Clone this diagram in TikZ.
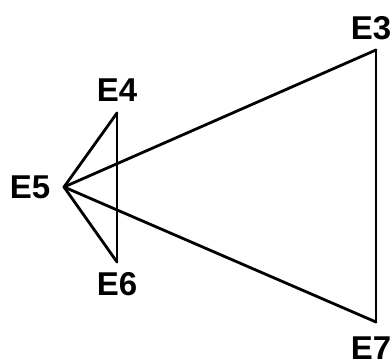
\documentclass[tikz,border=0pt]{standalone}
\usepackage{fontspec}
\setmainfont{Liberation Sans}
\begin{document}
\begin{tikzpicture}[x=1pt,y=-1pt,
  vtx/.style={inner sep=0pt,minimum size=0pt},
  lbl/.style={font=\bfseries\fontsize{33}{33}\selectfont,inner sep=0pt},
  edge/.style={line width=2.8pt,line cap=round,line join=round}]
\useasboundingbox (0,0) rectangle (392,359);
\node[vtx] (E3) at (376,50) {};
\node[vtx] (E4) at (117,113) {};
\node[vtx] (E5) at (64,187) {};
\node[vtx] (E6) at (117,262) {};
\node[vtx] (E7) at (376,322) {};
\node[lbl] (L3) at (371,28) {E3};
\node[lbl] (L4) at (117,90) {E4};
\node[lbl] (L5) at (30,187) {E5};
\node[lbl] (L6) at (117,284) {E6};
\node[lbl] (L7) at (371,348) {E7};
\draw[edge] (E5.center) -- (E3.center);
\draw[edge] (E5.center) -- (E4.center);
\draw[edge] (E5.center) -- (E6.center);
\draw[edge] (E5.center) -- (E7.center);
\draw[edge] (E4.center) -- (E6.center);
\draw[edge] (E3.center) -- (E7.center);
\end{tikzpicture}
\end{document}
